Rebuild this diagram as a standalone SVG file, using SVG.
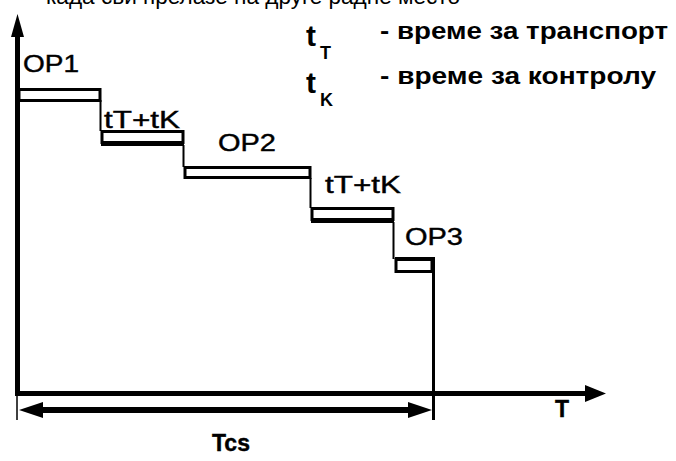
<svg xmlns="http://www.w3.org/2000/svg" width="676" height="461" viewBox="0 0 676 461">
<style>
.lbl{font-family:"Liberation Sans",Arial,sans-serif;font-size:23px;fill:#000;stroke:#000;stroke-width:0.4}
.top{font-family:"Liberation Sans",Arial,sans-serif;font-size:22px;fill:#000}
.leg{font-family:"Liberation Sans",Arial,sans-serif;font-size:23px;font-weight:bold;fill:#000}
.big{font-family:"Liberation Sans",Arial,sans-serif;font-size:30px;font-weight:bold;fill:#000}
.sub{font-family:"Liberation Sans",Arial,sans-serif;font-size:18px;font-weight:bold;fill:#000}
.bar{fill:#fff;stroke:#000;stroke-width:3}
.ln{stroke:#000;fill:none}
</style>
<rect width="676" height="461" fill="#fff"/>
<text class="top" x="46" y="4" textLength="414" lengthAdjust="spacingAndGlyphs">када сви прелазе на друге радне место</text>
<g id="axes">
<line class="ln" x1="17.5" y1="30" x2="17.5" y2="396" stroke-width="5"/>
<polygon points="17.5,14 11,37 24,37" fill="#000"/>
<line class="ln" x1="15" y1="393.5" x2="590" y2="393.5" stroke-width="5"/>
<polygon points="606,393.5 585,385 585,402" fill="#000"/>
</g>
<g id="op1">
<rect class="bar" x="19" y="89.5" width="81" height="11"/>
<text class="lbl" x="23" y="72" textLength="56" lengthAdjust="spacingAndGlyphs">OP1</text>
</g>
<g id="tk1">
<rect class="bar" x="102" y="131.5" width="81" height="11"/>
<rect x="101" y="141" width="83" height="5" fill="#000"/>
<text class="lbl" x="104" y="128" textLength="76" lengthAdjust="spacingAndGlyphs">tT+tK</text>
</g>
<g id="op2">
<rect class="bar" x="185" y="167.5" width="125" height="10"/>
<text class="lbl" x="218" y="151" textLength="58" lengthAdjust="spacingAndGlyphs">OP2</text>
</g>
<g id="tk2">
<rect class="bar" x="312" y="208.5" width="81" height="11"/>
<rect x="311" y="218" width="83" height="5" fill="#000"/>
<text class="lbl" x="325" y="193" textLength="76" lengthAdjust="spacingAndGlyphs">tT+tK</text>
</g>
<g id="op3">
<rect class="bar" x="396" y="259.5" width="36" height="12"/>
<rect x="395" y="257" width="40" height="4" fill="#000"/>
<rect x="431" y="257" width="4" height="16" fill="#000"/>
<text class="lbl" x="405" y="245" textLength="58" lengthAdjust="spacingAndGlyphs">OP3</text>
</g>
<g id="connectors">
<line class="ln" x1="100.5" y1="100" x2="100.5" y2="131" stroke-width="2"/>
<line class="ln" x1="183.5" y1="145" x2="183.5" y2="167" stroke-width="2"/>
<line class="ln" x1="310.5" y1="178" x2="310.5" y2="208" stroke-width="2"/>
<line class="ln" x1="393.5" y1="222" x2="393.5" y2="259" stroke-width="2"/>
<line class="ln" x1="433.5" y1="259" x2="433.5" y2="420" stroke-width="3"/>
<line class="ln" x1="17" y1="396" x2="17" y2="420" stroke-width="1.5"/>
<line class="ln" x1="36" y1="410" x2="415" y2="410" stroke-width="6"/>
<polygon points="19,410 43,402 43,418" fill="#000"/>
<polygon points="432,410 408,402 408,418" fill="#000"/>
</g>
<g id="legend">
<text class="big" x="306" y="46">t</text>
<text class="sub" x="320" y="59">T</text>
<text class="leg" x="380" y="39" textLength="288" lengthAdjust="spacingAndGlyphs">- време за транспорт</text>
<text class="big" x="306" y="93">t</text>
<text class="sub" x="320" y="106">K</text>
<text class="leg" x="380" y="84" textLength="276" lengthAdjust="spacingAndGlyphs">- време за контролу</text>
</g>
<text class="lbl" x="555" y="417" font-weight="bold">T</text>
<text class="lbl" x="212" y="451" font-weight="bold">Tcs</text>
</svg>
